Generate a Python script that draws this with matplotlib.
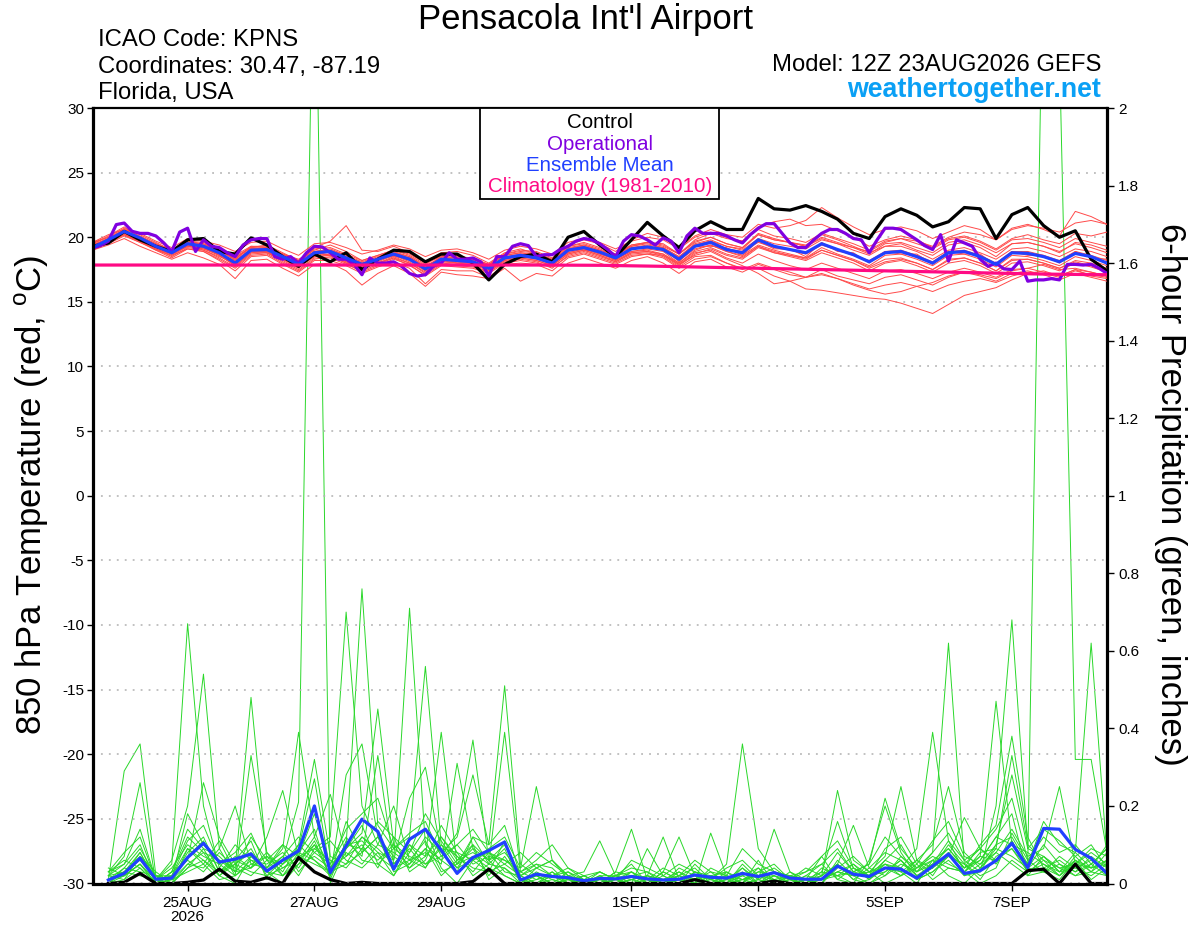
import matplotlib
matplotlib.use('Agg')
import matplotlib.pyplot as plt
import numpy as np
import pandas as pd
from matplotlib.patches import Rectangle

plt.rcParams['font.family'] = ['Liberation Sans', 'DejaVu Sans']
plt.rcParams['mathtext.fontset'] = 'custom'
plt.rcParams['mathtext.rm'] = 'Liberation Sans'
plt.rcParams['axes.unicode_minus'] = False

# ---- data ----
# 850 hPa temperature, 6-hourly from 23AUG 12Z
temp_control = [19.3, 19.55, 20.45, 19.8, 19.3, 18.9, 19.8, 19.9, 18.9, 18.7, 19.95, 19.4, 18.5, 17.75, 18.7, 18.1, 18.8,
                17.5, 18.3, 19.0, 18.9, 18.1, 18.7, 18.7, 18.0, 16.7, 17.9, 18.5, 18.7, 18.1, 20.0, 20.45, 19.4,
                18.5, 19.8, 21.15, 20.1, 19.2, 20.5, 21.2, 20.6, 20.6, 23.0, 22.2, 22.1, 22.45, 22.0, 21.4, 20.3,
                19.9, 21.6, 22.2, 21.7, 20.8, 21.2, 22.3, 22.2, 19.9, 21.75, 22.3, 20.9, 20.0, 20.5, 18.3, 17.4]
temp_mean = [19.2, 19.8, 20.45, 19.95, 19.3, 18.8, 19.5, 19.3, 18.8, 18.0, 19.0, 19.05, 18.5, 17.9, 18.8, 18.9, 18.4,
             17.9, 18.3, 18.7, 18.3, 17.55, 18.3, 18.2, 18.1, 17.6, 18.4, 18.6, 18.4, 18.0, 19.0, 19.2, 18.85,
             18.4, 19.1, 19.25, 19.05, 18.3, 19.3, 19.6, 19.05, 18.8, 19.8, 19.3, 19.05, 18.8, 19.5, 19.05, 18.65,
             18.1, 18.8, 18.9, 18.5, 18.0, 18.8, 18.9, 18.5, 17.9, 18.8, 18.75, 18.5, 18.1, 18.75, 18.5, 18.0]
# operational run is 3-hourly
temp_oper = [19.17, 19.35, 19.7, 20.98, 21.1, 20.46, 20.3, 20.3, 20.1, 19.56, 18.9, 20.4, 20.7, 18.9, 19.8, 19.3,
             19.2, 18.8, 18.5, 19.4, 19.8, 19.9, 19.9, 18.5, 18.3, 18.5, 18.0, 18.8, 19.3, 19.25, 18.8, 18.3,
             18.3, 17.9, 17.1, 18.4, 18.0, 18.0, 18.1, 17.75, 17.2, 17.0, 17.1, 17.75, 18.0, 18.8, 18.3, 18.3,
             18.4, 18.1, 17.0, 18.5, 18.5, 19.3, 19.5, 19.35, 18.5, 18.65, 18.65, 19.05, 19.3, 19.7, 19.9, 19.8,
             19.5, 19.05, 18.5, 19.7, 20.2, 20.1, 19.8, 19.4, 19.95, 19.7, 18.8, 20.1, 20.7, 20.3, 20.3, 20.3,
             20.1, 19.8, 19.56, 20.2, 20.7, 21.05, 21.05, 20.3, 19.56, 19.2, 19.2, 19.8, 20.3, 20.6, 20.6, 20.3,
             19.9, 19.8, 18.8, 19.8, 20.7, 20.7, 20.6, 20.2, 19.8, 19.35, 19.05, 20.2, 18.15, 19.8, 19.56, 19.3,
             18.3, 17.75, 18.0, 17.55, 17.5, 18.15, 16.6, 16.7, 16.7, 16.8, 16.7, 17.9, 17.9, 17.85, 17.9, 17.6, 17.2]
# climatology, daily at 12Z
temp_clim = [17.85, 17.85, 17.85, 17.85, 17.85, 17.85, 17.85, 17.85, 17.83, 17.75, 17.65, 17.55, 17.45,
             17.35, 17.25, 17.15, 17.1]

temp_members = [
    [19.4, 19.9, 20.3, 19.8, 19.2, 18.9, 19.6, 19.5, 19.0, 18.6, 19.3, 19.2, 18.7, 18.3, 19.0, 19.4, 18.9,
     18.2, 18.6, 19.0, 18.7, 18.0, 18.5, 18.6, 18.3, 17.9, 18.7, 19.0, 18.9, 18.4, 19.4, 19.8, 19.5,
     18.9, 19.8, 20.3, 20.0, 19.2, 20.1, 20.6, 20.2, 20.0, 21.0, 20.7, 20.9, 21.3, 22.3, 21.5, 20.8,
     20.2, 20.6, 20.8, 20.5, 19.9, 20.4, 20.9, 20.6, 19.8, 20.7, 21.0, 20.6, 20.1, 22.0, 21.6, 21.0],
    [19.0, 19.6, 20.2, 19.7, 19.0, 18.6, 19.1, 18.9, 18.3, 17.6, 18.6, 18.7, 18.0, 17.4, 18.3, 18.5, 18.0,
     17.3, 17.8, 18.3, 17.9, 17.0, 17.8, 17.7, 17.6, 17.2, 18.0, 18.2, 18.0, 17.7, 18.5, 18.8, 18.4,
     18.0, 18.6, 18.7, 18.4, 17.6, 18.3, 18.5, 18.0, 17.6, 17.6, 17.0, 16.6, 16.0, 15.9, 15.7, 15.5,
     15.3, 15.2, 14.9, 14.5, 14.1, 14.8, 15.5, 15.8, 16.1, 16.7, 17.2, 17.4, 17.0, 17.5, 17.0, 16.8],
    [19.3, 19.7, 20.4, 20.0, 19.4, 18.7, 19.3, 19.2, 18.6, 17.8, 18.8, 18.9, 18.3, 17.7, 18.5, 18.6, 18.1,
     17.6, 18.0, 18.5, 18.0, 17.2, 18.0, 17.9, 17.8, 17.3, 18.2, 18.4, 18.2, 17.8, 18.7, 19.0, 18.6,
     18.2, 18.8, 18.9, 18.6, 17.9, 18.6, 18.9, 18.3, 17.8, 17.2, 16.4, 16.6, 16.9, 17.1, 16.8, 16.3,
     15.9, 15.6, 15.8, 16.2, 16.5, 17.0, 17.3, 17.1, 16.8, 17.4, 17.6, 17.9, 17.5, 17.6, 17.3, 17.0],
    [19.5, 20.0, 20.7, 20.2, 19.6, 19.0, 19.8, 19.4, 19.1, 18.5, 19.2, 19.4, 18.8, 18.2, 19.2, 19.7, 20.9,
     19.0, 18.9, 19.3, 18.8, 18.1, 18.8, 18.9, 18.6, 18.0, 18.8, 19.1, 18.7, 18.3, 19.3, 19.6, 19.2,
     18.7, 19.4, 19.6, 19.3, 18.7, 19.6, 20.0, 19.5, 19.2, 20.3, 19.9, 19.6, 19.3, 19.9, 19.5, 19.0,
     18.6, 19.3, 19.5, 19.0, 18.6, 19.4, 19.6, 19.2, 18.5, 19.5, 19.6, 19.3, 18.8, 19.6, 19.4, 19.0],
    [19.1, 19.5, 20.1, 19.6, 19.0, 18.4, 19.1, 18.9, 18.2, 17.4, 18.5, 18.6, 17.9, 17.3, 18.2, 18.2, 17.8,
     17.2, 17.7, 18.1, 17.6, 16.4, 17.5, 17.4, 17.4, 16.9, 17.9, 18.0, 17.9, 17.4, 18.4, 18.7, 18.3,
     17.9, 18.5, 18.7, 18.6, 17.8, 18.7, 19.1, 18.6, 18.3, 19.2, 18.8, 18.6, 18.4, 19.0, 18.6, 18.2,
     17.6, 18.1, 18.3, 18.0, 17.5, 18.2, 18.4, 18.0, 17.4, 18.2, 18.3, 18.0, 17.6, 18.1, 17.8, 17.4],
    [19.3, 19.9, 20.6, 20.1, 19.5, 19.0, 19.7, 19.6, 19.0, 18.3, 19.3, 19.3, 18.7, 18.1, 19.1, 19.2, 18.7,
     18.2, 18.6, 19.0, 18.6, 17.9, 18.6, 18.5, 18.4, 17.9, 18.7, 18.9, 18.8, 18.3, 19.3, 19.5, 19.1,
     18.6, 19.4, 19.6, 19.5, 18.7, 19.7, 20.0, 19.5, 19.2, 20.2, 19.8, 19.6, 19.3, 20.0, 19.6, 19.2,
     18.7, 19.5, 19.6, 19.2, 18.8, 19.6, 19.8, 19.4, 18.8, 19.5, 19.6, 19.3, 18.9, 19.5, 19.2, 18.8],
    [19.0, 19.6, 20.3, 19.8, 19.1, 18.6, 19.3, 19.1, 18.6, 17.8, 18.8, 18.8, 18.3, 17.7, 18.5, 18.6, 18.1,
     17.6, 18.0, 18.4, 18.0, 17.3, 18.1, 18.0, 17.9, 17.4, 18.2, 18.4, 18.2, 17.8, 18.7, 19.0, 18.6,
     18.1, 18.8, 18.9, 18.7, 18.0, 18.9, 19.2, 18.7, 18.4, 19.3, 18.9, 18.6, 18.3, 19.0, 18.6, 18.2,
     17.7, 18.3, 18.4, 18.0, 17.5, 18.3, 18.4, 18.0, 17.4, 18.3, 18.3, 18.0, 17.6, 18.2, 18.0, 17.6],
    [19.6, 20.0, 20.4, 19.9, 19.4, 19.0, 19.5, 19.4, 19.0, 18.2, 19.1, 19.2, 18.6, 18.0, 18.9, 19.1, 18.6,
     18.1, 18.5, 18.9, 18.5, 17.7, 18.5, 18.4, 18.3, 17.8, 18.6, 18.8, 18.7, 18.2, 19.2, 19.4, 19.0,
     18.6, 19.3, 19.6, 19.4, 18.7, 19.8, 20.3, 19.9, 19.7, 20.8, 21.2, 21.4, 20.9, 21.0, 20.5, 20.0,
     19.3, 19.8, 20.1, 19.8, 19.2, 19.9, 20.1, 19.7, 19.1, 19.9, 20.2, 19.8, 19.5, 20.3, 20.1, 20.4],
    [19.4, 19.8, 20.2, 19.6, 19.1, 18.7, 19.4, 19.0, 18.5, 18.0, 18.9, 18.9, 18.2, 17.6, 18.9, 18.6, 18.0,
     17.8, 18.2, 18.9, 18.3, 17.6, 18.1, 18.1, 18.0, 17.6, 18.3, 18.5, 18.4, 18.0, 18.8, 19.1, 18.7,
     18.3, 18.9, 19.1, 18.9, 18.0, 19.0, 19.4, 18.9, 18.6, 19.4, 19.0, 18.7, 18.4, 19.2, 18.7, 18.3,
     17.8, 18.6, 18.7, 18.3, 17.8, 18.6, 18.7, 18.3, 17.7, 18.6, 18.5, 18.2, 17.8, 18.5, 18.2, 17.8],
    [19.2, 19.7, 20.5, 19.9, 19.3, 18.8, 19.5, 19.3, 18.7, 18.0, 19.0, 19.0, 18.5, 17.9, 18.7, 18.9, 18.4,
     17.9, 18.3, 18.7, 18.3, 17.5, 18.3, 18.2, 18.1, 17.6, 18.4, 18.6, 18.4, 18.0, 18.9, 19.2, 18.8,
     18.3, 18.9, 19.0, 18.7, 17.9, 18.8, 19.0, 18.4, 18.0, 18.7, 18.2, 17.8, 17.5, 18.0, 17.6, 17.2,
     16.8, 17.4, 17.5, 17.2, 16.8, 17.3, 17.6, 17.3, 16.9, 17.5, 17.6, 17.3, 17.0, 17.5, 17.3, 17.0],
    [19.5, 20.1, 20.8, 20.0, 19.5, 18.9, 19.6, 19.5, 18.9, 18.4, 19.2, 19.1, 18.7, 18.2, 18.9, 19.0, 18.6,
     18.0, 18.4, 18.8, 18.5, 17.8, 18.4, 18.4, 18.3, 17.8, 18.6, 18.8, 18.6, 18.2, 19.1, 19.4, 19.0,
     18.6, 19.3, 19.5, 19.2, 18.5, 19.5, 19.8, 19.3, 19.1, 20.2, 19.8, 19.6, 19.4, 20.2, 19.8, 19.3,
     18.8, 19.3, 19.3, 18.9, 18.3, 19.0, 19.2, 18.8, 18.3, 19.1, 19.2, 18.9, 18.5, 19.1, 18.9, 18.5],
    [19.2, 19.8, 20.4, 19.9, 19.2, 18.7, 19.4, 19.2, 18.8, 18.1, 19.1, 19.2, 18.5, 17.9, 18.8, 18.8, 18.3,
     17.7, 18.2, 18.6, 18.1, 17.4, 18.2, 18.0, 18.0, 17.5, 18.3, 18.5, 18.3, 17.9, 18.8, 19.1, 18.7,
     18.3, 19.1, 19.3, 19.0, 18.2, 19.1, 19.4, 18.9, 18.5, 19.3, 18.8, 18.5, 18.2, 18.8, 18.4, 18.0,
     17.4, 18.0, 18.2, 17.8, 17.3, 18.0, 18.2, 17.8, 17.2, 18.0, 18.1, 17.8, 17.4, 18.0, 17.7, 17.3],
    [19.0, 19.4, 19.9, 19.3, 18.8, 18.3, 18.8, 18.4, 17.9, 16.8, 18.2, 18.3, 17.6, 17.0, 17.9, 18.0, 17.4,
     16.3, 17.2, 17.8, 17.2, 16.2, 17.3, 17.1, 17.0, 16.8, 17.6, 16.6, 17.2, 17.0, 18.0, 18.4, 18.0,
     17.6, 18.2, 18.5, 18.0, 17.2, 18.1, 18.3, 17.7, 17.3, 17.9, 17.5, 17.1, 16.9, 17.5, 17.0, 16.7,
     16.4, 16.9, 17.1, 16.7, 16.3, 16.9, 17.3, 17.0, 16.6, 17.2, 17.4, 17.1, 16.7, 17.2, 16.9, 16.6],
    [19.6, 20.2, 20.6, 20.3, 19.7, 19.2, 19.9, 19.7, 19.4, 18.9, 19.6, 19.7, 19.1, 18.6, 19.5, 19.6, 19.2,
     18.7, 19.0, 19.4, 19.1, 18.5, 19.0, 19.1, 18.8, 18.3, 19.0, 19.3, 19.1, 18.7, 19.6, 19.9, 19.6,
     19.1, 19.7, 20.0, 19.8, 19.1, 20.0, 20.4, 20.0, 19.7, 20.6, 20.1, 19.9, 19.6, 20.3, 19.9, 19.5,
     19.0, 19.7, 19.9, 19.5, 19.1, 19.8, 20.0, 19.6, 19.0, 19.8, 19.9, 19.6, 19.2, 19.9, 19.6, 19.3],
    [19.1, 19.6, 20.2, 19.7, 19.1, 18.5, 19.2, 19.0, 18.4, 17.7, 18.7, 18.8, 18.1, 17.5, 18.4, 18.4, 17.9,
     17.4, 17.9, 18.4, 17.8, 17.1, 17.9, 17.8, 17.7, 17.3, 18.1, 18.3, 18.1, 17.6, 18.6, 18.9, 18.5,
     18.1, 18.7, 18.8, 18.5, 17.7, 18.5, 18.6, 18.0, 17.5, 18.0, 17.6, 17.3, 16.9, 17.2, 16.8, 16.4,
     16.0, 16.3, 16.5, 16.2, 15.8, 16.3, 16.6, 16.8, 16.5, 17.0, 17.3, 17.2, 16.9, 17.4, 17.1, 16.9],
    [19.3, 19.7, 20.3, 19.8, 19.3, 18.8, 19.3, 19.1, 18.7, 18.2, 19.0, 18.8, 18.3, 17.8, 18.6, 18.7, 18.2,
     17.8, 18.1, 18.6, 18.2, 17.6, 18.2, 18.3, 17.9, 17.5, 18.3, 18.7, 18.5, 18.0, 19.0, 19.3, 18.9,
     18.5, 19.2, 19.3, 19.1, 18.4, 19.4, 19.7, 19.1, 18.9, 19.6, 19.2, 19.0, 18.7, 19.4, 19.0, 18.6,
     18.2, 18.9, 19.0, 18.6, 18.1, 18.9, 19.0, 18.6, 18.0, 18.9, 18.9, 18.6, 18.2, 18.9, 18.6, 18.2],
    [19.4, 19.9, 20.5, 20.0, 19.4, 18.9, 19.6, 19.4, 18.9, 18.3, 19.2, 19.1, 18.6, 18.0, 18.9, 19.0, 18.5,
     18.0, 18.4, 18.8, 18.4, 17.7, 18.4, 18.3, 18.2, 17.7, 18.5, 18.7, 18.5, 18.1, 19.1, 19.3, 18.9,
     18.5, 19.2, 19.4, 19.2, 18.5, 19.4, 19.7, 19.3, 19.0, 19.9, 19.5, 19.3, 19.1, 19.8, 19.5, 19.2,
     18.9, 19.6, 19.9, 19.7, 19.3, 20.0, 20.4, 20.2, 19.8, 20.6, 20.9, 20.7, 20.4, 21.1, 21.3, 21.0],
    [19.2, 19.9, 20.6, 19.8, 19.2, 18.7, 19.6, 19.2, 18.6, 17.9, 19.1, 18.9, 18.4, 17.8, 18.8, 18.6, 18.3,
     17.6, 18.4, 18.5, 18.4, 17.4, 18.4, 18.0, 18.2, 17.4, 18.5, 18.4, 18.5, 17.8, 19.1, 19.0, 18.9,
     18.2, 19.2, 19.1, 19.2, 18.1, 19.3, 19.3, 19.2, 18.6, 19.7, 19.1, 19.1, 18.5, 19.6, 18.9, 18.8,
     18.0, 18.9, 18.7, 18.7, 17.9, 18.9, 18.7, 18.7, 17.8, 18.9, 18.6, 18.6, 18.0, 18.9, 18.4, 18.3],
]

# 6-hour precipitation, 6-hourly from 23AUG 18Z
pcp_control = [0, 0.003, 0.026, 0, 0, 0.003, 0.009, 0.037, 0.006, 0.003, 0.015, 0, 0.067, 0.03, 0.01, 0,
               0.003, 0, 0, 0, 0, 0, 0, 0.005, 0.037, 0, 0, 0, 0, 0, 0, 0,
               0, 0, 0, 0, 0, 0.01, 0, 0, 0, 0, 0.006, 0, 0, 0, 0, 0,
               0, 0, 0, 0, 0, 0, 0, 0, 0, 0, 0.033, 0.037, 0, 0.05, 0, 0]
pcp_mean = [0.009, 0.026, 0.065, 0.011, 0.014, 0.067, 0.104, 0.055, 0.063, 0.076, 0.032, 0.06, 0.084, 0.2, 0.028, 0.097,
            0.166, 0.134, 0.037, 0.114, 0.14, 0.086, 0.026, 0.067, 0.085, 0.107, 0.009, 0.024, 0.018, 0.015, 0.007, 0.013,
            0.012, 0.018, 0.012, 0.009, 0.011, 0.022, 0.016, 0.014, 0.026, 0.018, 0.028, 0.014, 0.011, 0.011, 0.045, 0.024,
            0.018, 0.04, 0.037, 0.014, 0.045, 0.076, 0.026, 0.033, 0.059, 0.104, 0.041, 0.142, 0.14, 0.088, 0.065, 0.026]
pcp_members = [
    [0.02, 0.05, 0.10, 0.00, 0.01, 0.08, 0.12, 0.03, 0.05, 0.09, 0.02, 0.06, 0.21, 2.60, 0.00, 0.09,
     0.15, 0.05, 0.02, 0.08, 0.14, 0.04, 0.00, 0.06, 0.03, 0.11, 0.00, 0.02, 0.00, 0.01, 0.00, 0.02,
     0.00, 0.03, 0.00, 0.02, 0.00, 0.05, 0.01, 0.00, 0.03, 0.00, 0.02, 0.00, 0.00, 0.04, 0.02, 0.00,
     0.01, 0.05, 0.03, 0.00, 0.06, 0.02, 0.00, 0.04, 0.08, 0.05, 0.02, 0.03, 0.01, 0.06, 0.03, 0.02],
    [0.00, 0.03, 0.06, 0.01, 0.00, 0.04, 0.09, 0.02, 0.00, 0.07, 0.03, 0.00, 0.05, 0.11, 0.02, 0.16,
     0.08, 0.12, 0.03, 0.05, 0.09, 0.02, 0.06, 0.10, 0.01, 0.04, 0.00, 0.00, 0.02, 0.00, 0.01, 0.00,
     0.02, 0.00, 0.01, 0.00, 0.03, 0.00, 0.02, 0.01, 0.00, 0.04, 0.00, 0.01, 0.00, 0.02, 0.05, 0.01,
     0.00, 0.03, 0.06, 0.02, 0.04, 0.08, 0.02, 0.03, 0.10, 0.12, 0.05, 2.50, 2.15, 0.32, 0.32, 0.08],
    [0.03, 0.08, 0.12, 0.01, 0.05, 0.67, 0.20, 0.04, 0.10, 0.06, 0.05, 0.08, 0.04, 0.10, 0.02, 0.28,
     0.36, 0.12, 0.06, 0.22, 0.30, 0.08, 0.12, 0.28, 0.10, 0.51, 0.05, 0.02, 0.00, 0.03, 0.00, 0.01,
     0.00, 0.02, 0.03, 0.00, 0.01, 0.00, 0.04, 0.02, 0.00, 0.03, 0.05, 0.01, 0.00, 0.00, 0.06, 0.02,
     0.03, 0.00, 0.02, 0.05, 0.01, 0.04, 0.03, 0.00, 0.02, 0.06, 0.03, 0.04, 0.02, 0.05, 0.04, 0.06],
    [0.01, 0.29, 0.36, 0.02, 0.00, 0.09, 0.05, 0.11, 0.03, 0.04, 0.08, 0.02, 0.06, 0.12, 0.04, 0.07,
     0.10, 0.04, 0.12, 0.03, 0.06, 0.15, 0.08, 0.02, 0.05, 0.09, 0.00, 0.04, 0.06, 0.02, 0.03, 0.11,
     0.02, 0.05, 0.00, 0.03, 0.01, 0.00, 0.02, 0.00, 0.05, 0.01, 0.00, 0.02, 0.03, 0.07, 0.01, 0.00,
     0.06, 0.20, 0.08, 0.02, 0.04, 0.10, 0.05, 0.01, 0.07, 0.09, 0.03, 0.06, 0.04, 0.02, 0.05, 0.09],
    [0.02, 0.07, 0.26, 0.00, 0.03, 0.12, 0.08, 0.02, 0.06, 0.11, 0.01, 0.05, 0.09, 0.27, 0.03, 0.05,
     0.12, 0.08, 0.02, 0.10, 0.05, 0.07, 0.13, 0.37, 0.06, 0.02, 0.00, 0.01, 0.03, 0.00, 0.02, 0.00,
     0.03, 0.14, 0.01, 0.00, 0.02, 0.04, 0.00, 0.01, 0.02, 0.00, 0.03, 0.00, 0.01, 0.02, 0.08, 0.03,
     0.02, 0.05, 0.04, 0.09, 0.39, 0.11, 0.03, 0.06, 0.12, 0.18, 0.02, 0.07, 0.03, 0.04, 0.02, 0.05],
    [0.04, 0.02, 0.05, 0.01, 0.06, 0.20, 0.54, 0.09, 0.02, 0.05, 0.07, 0.03, 0.10, 0.06, 0.02, 0.08,
     0.05, 0.10, 0.20, 0.06, 0.11, 0.03, 0.05, 0.09, 0.02, 0.07, 0.01, 0.00, 0.02, 0.01, 0.00, 0.03,
     0.01, 0.00, 0.09, 0.02, 0.00, 0.03, 0.01, 0.00, 0.02, 0.04, 0.01, 0.00, 0.02, 0.05, 0.01, 0.04,
     0.01, 0.06, 0.10, 0.03, 0.08, 0.62, 0.05, 0.02, 0.04, 0.13, 0.06, 0.03, 0.07, 0.04, 0.06, 0.03],
    [0.01, 0.04, 0.09, 0.02, 0.01, 0.18, 0.10, 0.06, 0.04, 0.48, 0.06, 0.02, 0.08, 0.14, 0.01, 0.11,
     0.07, 0.33, 0.05, 0.09, 0.04, 0.12, 0.07, 0.03, 0.08, 0.05, 0.02, 0.00, 0.01, 0.00, 0.02, 0.00,
     0.00, 0.01, 0.02, 0.12, 0.01, 0.00, 0.02, 0.03, 0.00, 0.01, 0.00, 0.03, 0.01, 0.00, 0.04, 0.07,
     0.03, 0.04, 0.02, 0.06, 0.10, 0.25, 0.08, 0.04, 0.09, 0.07, 0.04, 0.10, 0.05, 0.03, 0.07, 0.04],
    [0.03, 0.06, 0.04, 0.00, 0.02, 0.06, 0.26, 0.12, 0.05, 0.08, 0.03, 0.07, 0.02, 0.09, 0.06, 0.04,
     0.09, 0.06, 0.10, 0.04, 0.07, 0.39, 0.05, 0.07, 0.04, 0.02, 0.00, 0.03, 0.01, 0.00, 0.00, 0.02,
     0.02, 0.01, 0.00, 0.03, 0.12, 0.02, 0.00, 0.01, 0.04, 0.00, 0.02, 0.01, 0.00, 0.03, 0.02, 0.05,
     0.02, 0.03, 0.06, 0.01, 0.03, 0.07, 0.17, 0.09, 0.05, 0.11, 0.03, 0.05, 0.02, 0.06, 0.01, 0.04],
    [0.00, 0.01, 0.07, 0.03, 0.00, 0.05, 0.04, 0.09, 0.20, 0.05, 0.04, 0.10, 0.03, 0.08, 0.11, 0.06,
     0.04, 0.08, 0.06, 0.71, 0.10, 0.06, 0.03, 0.12, 0.05, 0.04, 0.01, 0.02, 0.00, 0.01, 0.00, 0.00,
     0.01, 0.03, 0.00, 0.01, 0.02, 0.00, 0.13, 0.02, 0.00, 0.06, 0.00, 0.02, 0.01, 0.01, 0.03, 0.02,
     0.00, 0.02, 0.05, 0.03, 0.06, 0.09, 0.04, 0.07, 0.47, 0.10, 0.08, 0.05, 0.03, 0.08, 0.04, 0.10],
    [0.02, 0.03, 0.08, 0.01, 0.04, 0.10, 0.07, 0.05, 0.02, 0.33, 0.08, 0.04, 0.06, 0.10, 0.05, 0.12,
     0.06, 0.05, 0.09, 0.12, 0.56, 0.10, 0.04, 0.06, 0.08, 0.03, 0.02, 0.00, 0.03, 0.00, 0.01, 0.00,
     0.00, 0.02, 0.01, 0.00, 0.04, 0.02, 0.01, 0.05, 0.36, 0.09, 0.03, 0.01, 0.00, 0.02, 0.05, 0.01,
     0.04, 0.08, 0.06, 0.02, 0.05, 0.11, 0.06, 0.03, 0.20, 0.68, 0.09, 0.07, 0.04, 0.05, 0.08, 0.05],
    [0.01, 0.02, 0.05, 0.00, 0.02, 0.07, 0.11, 0.03, 0.07, 0.04, 0.12, 0.24, 0.07, 0.05, 0.03, 0.10,
     0.11, 0.07, 0.04, 0.06, 0.08, 0.05, 0.31, 0.09, 0.06, 0.10, 0.02, 0.05, 0.04, 0.00, 0.01, 0.01,
     0.02, 0.04, 0.03, 0.01, 0.00, 0.03, 0.02, 0.00, 0.04, 0.01, 0.14, 0.03, 0.00, 0.01, 0.03, 0.05,
     0.01, 0.04, 0.03, 0.06, 0.02, 0.08, 0.04, 0.10, 0.15, 0.38, 0.12, 0.04, 0.06, 0.03, 0.05, 0.02],
    [0.00, 0.04, 0.03, 0.02, 0.01, 0.05, 0.08, 0.06, 0.03, 0.07, 0.04, 0.09, 0.39, 0.12, 0.23, 0.07,
     0.12, 0.09, 0.05, 0.10, 0.07, 0.12, 0.06, 0.08, 0.05, 0.39, 0.03, 0.01, 0.02, 0.00, 0.00, 0.01,
     0.00, 0.01, 0.02, 0.00, 0.01, 0.02, 0.00, 0.03, 0.01, 0.02, 0.00, 0.01, 0.04, 0.02, 0.24, 0.06,
     0.03, 0.05, 0.02, 0.04, 0.07, 0.05, 0.03, 0.08, 0.09, 0.33, 0.10, 0.06, 0.02, 0.07, 0.03, 0.06],
    [0.02, 0.01, 0.04, 0.00, 0.03, 0.06, 0.03, 0.08, 0.04, 0.02, 0.06, 0.05, 0.10, 0.32, 0.07, 0.05,
     0.08, 0.12, 0.07, 0.04, 0.09, 0.06, 0.10, 0.05, 0.07, 0.06, 0.04, 0.25, 0.06, 0.02, 0.01, 0.00,
     0.01, 0.00, 0.02, 0.01, 0.03, 0.01, 0.02, 0.00, 0.01, 0.03, 0.02, 0.00, 0.01, 0.03, 0.16, 0.04,
     0.02, 0.06, 0.04, 0.01, 0.03, 0.06, 0.02, 0.05, 0.08, 0.14, 0.07, 0.09, 0.25, 0.05, 0.09, 0.07],
    [0.01, 0.03, 0.02, 0.01, 0.00, 0.04, 0.06, 0.02, 0.05, 0.03, 0.02, 0.04, 0.07, 0.09, 0.12, 0.70,
     0.20, 0.10, 0.08, 0.05, 0.12, 0.08, 0.04, 0.10, 0.06, 0.08, 0.03, 0.06, 0.10, 0.04, 0.02, 0.03,
     0.01, 0.02, 0.00, 0.03, 0.01, 0.00, 0.01, 0.02, 0.00, 0.01, 0.03, 0.02, 0.01, 0.00, 0.05, 0.15,
     0.04, 0.02, 0.07, 0.03, 0.05, 0.09, 0.04, 0.06, 0.12, 0.10, 0.05, 0.16, 0.10, 0.08, 0.62, 0.07],
    [0.00, 0.02, 0.05, 0.00, 0.01, 0.03, 0.05, 0.01, 0.02, 0.06, 0.03, 0.02, 0.05, 0.07, 0.04, 0.10,
     0.76, 0.15, 0.09, 0.06, 0.04, 0.10, 0.07, 0.04, 0.03, 0.05, 0.08, 0.04, 0.02, 0.03, 0.01, 0.00,
     0.02, 0.03, 0.01, 0.00, 0.02, 0.01, 0.00, 0.02, 0.01, 0.00, 0.01, 0.02, 0.00, 0.01, 0.02, 0.03,
     0.05, 0.22, 0.09, 0.04, 0.06, 0.04, 0.03, 0.07, 0.06, 0.09, 0.04, 0.03, 0.05, 0.02, 0.03, 0.08],
    [0.01, 0.03, 0.07, 0.02, 0.02, 0.09, 0.06, 0.03, 0.06, 0.04, 0.07, 0.05, 0.08, 0.06, 0.03, 0.09,
     0.13, 0.45, 0.10, 0.07, 0.05, 0.09, 0.08, 0.06, 0.09, 0.12, 0.04, 0.08, 0.05, 0.02, 0.00, 0.02,
     0.00, 0.01, 0.02, 0.01, 0.00, 0.01, 0.03, 0.00, 0.01, 0.02, 0.01, 0.00, 0.02, 0.01, 0.03, 0.02,
     0.03, 0.07, 0.25, 0.06, 0.04, 0.07, 0.05, 0.09, 0.06, 0.11, 0.04, 0.07, 0.03, 0.06, 0.04, 0.05],
    [0.03, 0.05, 0.14, 0.01, 0.02, 0.11, 0.15, 0.05, 0.08, 0.13, 0.04, 0.07, 0.12, 0.08, 0.05, 0.14,
     0.18, 0.22, 0.09, 0.13, 0.16, 0.07, 0.10, 0.14, 0.08, 0.06, 0.03, 0.05, 0.02, 0.04, 0.01, 0.03,
     0.01, 0.06, 0.04, 0.02, 0.05, 0.03, 0.01, 0.04, 0.06, 0.02, 0.04, 0.01, 0.03, 0.05, 0.09, 0.03,
     0.05, 0.12, 0.07, 0.04, 0.08, 0.13, 0.06, 0.09, 0.14, 0.22, 0.06, 0.12, 0.08, 0.10, 0.05, 0.09],
    [0.01, 0.02, 0.08, 0.00, 0.03, 0.14, 0.09, 0.07, 0.03, 0.12, 0.06, 0.10, 0.07, 0.18, 0.04, 0.10,
     0.09, 0.16, 0.12, 0.08, 0.18, 0.11, 0.05, 0.12, 0.10, 0.15, 0.02, 0.04, 0.06, 0.01, 0.02, 0.00,
     0.03, 0.02, 0.01, 0.04, 0.02, 0.06, 0.03, 0.02, 0.09, 0.05, 0.03, 0.02, 0.01, 0.07, 0.11, 0.04,
     0.02, 0.09, 0.12, 0.05, 0.11, 0.16, 0.07, 0.05, 0.10, 0.28, 0.09, 0.14, 0.11, 0.07, 0.10, 0.04],
]

tick_dates = ['2026-08-25', '2026-08-27', '2026-08-29', '2026-09-01', '2026-09-03', '2026-09-05', '2026-09-07']
tick_labels = ['25AUG\n2026', '27AUG', '29AUG', '1SEP', '3SEP', '5SEP', '7SEP']

times = pd.date_range('2026-08-23 12:00', periods=len(temp_mean), freq='6h')
oper_times = pd.date_range('2026-08-23 12:00', periods=len(temp_oper), freq='3h')
clim_times = pd.date_range('2026-08-23 12:00', periods=len(temp_clim), freq='1D')
pcp_times = pd.date_range('2026-08-23 18:00', periods=len(pcp_mean), freq='6h')

W, H = 1200, 927


def fx(px):
    return px / W


def fy(py):
    return 1 - py / H


fig = plt.figure(figsize=(W / 100, H / 100), dpi=100)
ax = fig.add_axes([fx(92.5), fy(883.5), fx(1107) - fx(92.5), fy(108) - fy(883.5)])
ax2 = ax.twinx()
ax.set_zorder(ax2.get_zorder() + 1)
ax.patch.set_visible(False)

# precipitation (right axis)
for m in pcp_members:
    ax2.plot(pcp_times, m, color='#2ad82a', lw=0.7)
ax2.plot(pcp_times, pcp_mean, color='#2040ff', lw=2.3)
ax2.plot(pcp_times, pcp_control, color='black', lw=2.3)

# temperature (left axis)
for m in temp_members:
    ax.plot(times, m, color='#ff4a4a', lw=0.7)
ax.plot(times, temp_control, color='black', lw=2.3)
ax.plot(oper_times, temp_oper, color='#8000e0', lw=2.3)
ax.plot(times, temp_mean, color='#2040ff', lw=2.3)
ax.plot(clim_times, temp_clim, color='#ff0a84', lw=2.3)

ax.set_xlim(times[0], times[-1])
ax.set_ylim(-30, 30)
ax2.set_ylim(0, 2)
ax.set_yticks(np.arange(-30, 31, 5))
pticks = np.round(np.arange(0, 2.01, 0.2), 1)
ax2.set_yticks(pticks)
ax2.set_yticklabels(['%g' % v for v in pticks])
ax.set_xticks(pd.to_datetime(tick_dates))
ax.set_xticklabels(tick_labels)
for lbl in ax.get_xticklabels():
    lbl.set_linespacing(1.0)

ax.yaxis.grid(True, color='#b0b0b0', linestyle=(0, (1.2, 4)), linewidth=1.1)
ax.tick_params(axis='y', labelsize=11, length=4, width=1, pad=2)
ax.tick_params(axis='x', labelsize=11, length=5, width=1, pad=4)
ax2.tick_params(axis='y', labelsize=11, length=5, width=1, pad=3)

for s in ['left', 'bottom']:
    ax.spines[s].set_linewidth(2.3)
ax.spines['top'].set_linewidth(1.6)
ax.spines['right'].set_visible(False)
for s in ['left', 'bottom', 'top']:
    ax2.spines[s].set_visible(False)
ax2.spines['right'].set_linewidth(2.3)

# header text
fig.text(fx(585), fy(29), "Pensacola Int'l Airport", fontsize=25, ha='center', va='baseline')
fig.text(fx(98), fy(45.5), 'ICAO Code: KPNS', fontsize=17.2, va='baseline')
fig.text(fx(98), fy(72.5), 'Coordinates: 30.47, -87.19', fontsize=17.2, va='baseline')
fig.text(fx(98), fy(99.5), 'Florida, USA', fontsize=17.2, va='baseline')
fig.text(fx(1101), fy(71), 'Model: 12Z 23AUG2026 GEFS', fontsize=17.2, ha='right', va='baseline')
fig.text(fx(1101), fy(97), 'weathertogether.net', fontsize=19.3, fontweight='bold', color='#0aa0f5',
         ha='right', va='baseline')

# axis titles
fig.text(fx(32), fy(495), r'850 hPa Temperature (red, $^\mathrm{o}$C)', fontsize=25, rotation=90,
         ha='center', va='center')
fig.text(fx(1170), fy(494), '6-hour Precipitation (green, inches)', fontsize=25, rotation=270,
         ha='center', va='center')

# legend box
fig.patches.append(Rectangle((fx(480), fy(199)), fx(719) - fx(480), fy(108) - fy(199),
                             transform=fig.transFigure, facecolor='white', edgecolor='black',
                             lw=1.3, zorder=5))
leg_rows = [('Control', 'black', 128), ('Operational', '#8000e0', 149.5),
            ('Ensemble Mean', '#2040ff', 171), ('Climatology (1981-2010)', '#ff0a84', 192.5)]
for txt, col, yb in leg_rows:
    fig.text(fx(600), fy(yb), txt, color=col, fontsize=14.8, ha='center', va='baseline', zorder=6)

fig.savefig('out.png', dpi=100)
